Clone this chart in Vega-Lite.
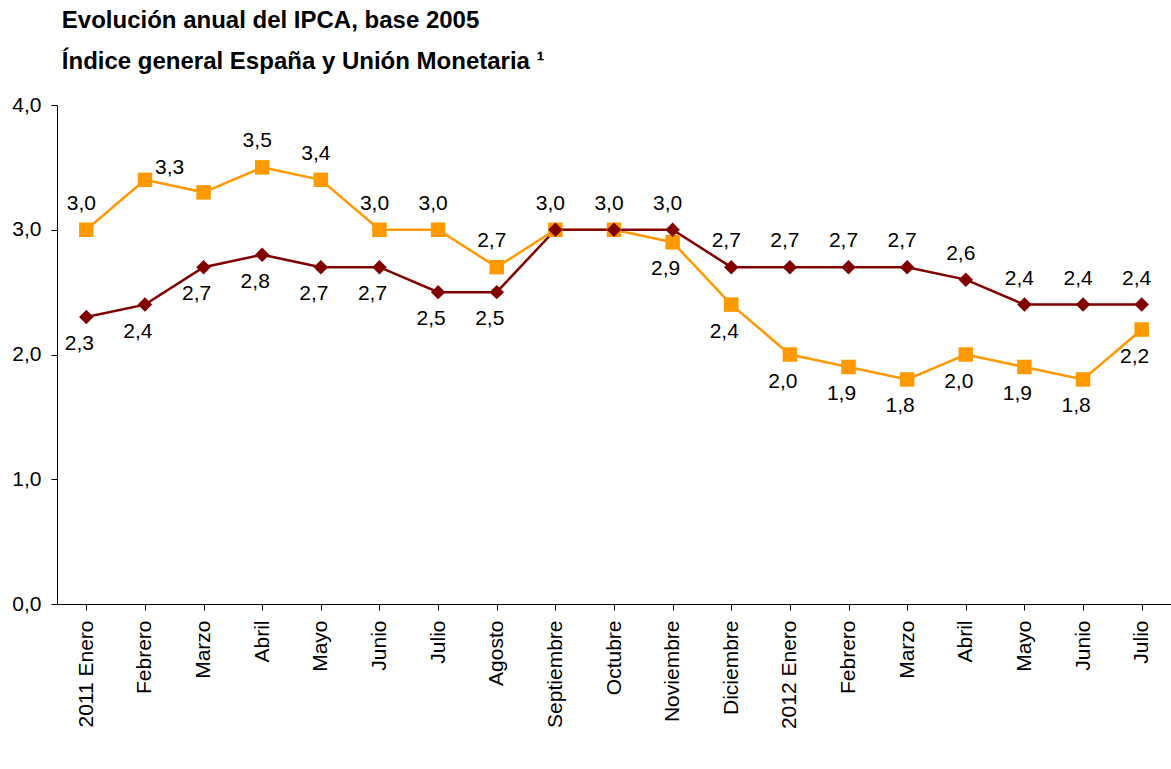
{
  "$schema": "https://vega.github.io/schema/vega-lite/v6.json",
  "autosize": {"type": "none"},
  "width": 1114,
  "height": 499,
  "padding": {"left": 57, "top": 105, "right": 0, "bottom": 165},
  "background": "white",
  "title": {
    "text": ["Evolución anual del IPCA, base 2005", "Índice general España y Unión Monetaria ¹"],
    "anchor": "start",
    "font": "Liberation Sans",
    "fontSize": 24,
    "fontWeight": "bold",
    "lineHeight": 41,
    "color": "black",
    "offset": 20,
    "dx": 50
  },
  "data": {
    "values": [
      {"fecha": "2011-01", "serie": "España", "valor": 3.0},
      {"fecha": "2011-02", "serie": "España", "valor": 3.4},
      {"fecha": "2011-03", "serie": "España", "valor": 3.3},
      {"fecha": "2011-04", "serie": "España", "valor": 3.5},
      {"fecha": "2011-05", "serie": "España", "valor": 3.4},
      {"fecha": "2011-06", "serie": "España", "valor": 3.0},
      {"fecha": "2011-07", "serie": "España", "valor": 3.0},
      {"fecha": "2011-08", "serie": "España", "valor": 2.7},
      {"fecha": "2011-09", "serie": "España", "valor": 3.0},
      {"fecha": "2011-10", "serie": "España", "valor": 3.0},
      {"fecha": "2011-11", "serie": "España", "valor": 2.9},
      {"fecha": "2011-12", "serie": "España", "valor": 2.4},
      {"fecha": "2012-01", "serie": "España", "valor": 2.0},
      {"fecha": "2012-02", "serie": "España", "valor": 1.9},
      {"fecha": "2012-03", "serie": "España", "valor": 1.8},
      {"fecha": "2012-04", "serie": "España", "valor": 2.0},
      {"fecha": "2012-05", "serie": "España", "valor": 1.9},
      {"fecha": "2012-06", "serie": "España", "valor": 1.8},
      {"fecha": "2012-07", "serie": "España", "valor": 2.2},
      {"fecha": "2011-01", "serie": "Unión Monetaria", "valor": 2.3},
      {"fecha": "2011-02", "serie": "Unión Monetaria", "valor": 2.4},
      {"fecha": "2011-03", "serie": "Unión Monetaria", "valor": 2.7},
      {"fecha": "2011-04", "serie": "Unión Monetaria", "valor": 2.8},
      {"fecha": "2011-05", "serie": "Unión Monetaria", "valor": 2.7},
      {"fecha": "2011-06", "serie": "Unión Monetaria", "valor": 2.7},
      {"fecha": "2011-07", "serie": "Unión Monetaria", "valor": 2.5},
      {"fecha": "2011-08", "serie": "Unión Monetaria", "valor": 2.5},
      {"fecha": "2011-09", "serie": "Unión Monetaria", "valor": 3.0},
      {"fecha": "2011-10", "serie": "Unión Monetaria", "valor": 3.0},
      {"fecha": "2011-11", "serie": "Unión Monetaria", "valor": 3.0},
      {"fecha": "2011-12", "serie": "Unión Monetaria", "valor": 2.7},
      {"fecha": "2012-01", "serie": "Unión Monetaria", "valor": 2.7},
      {"fecha": "2012-02", "serie": "Unión Monetaria", "valor": 2.7},
      {"fecha": "2012-03", "serie": "Unión Monetaria", "valor": 2.7},
      {"fecha": "2012-04", "serie": "Unión Monetaria", "valor": 2.6},
      {"fecha": "2012-05", "serie": "Unión Monetaria", "valor": 2.4},
      {"fecha": "2012-06", "serie": "Unión Monetaria", "valor": 2.4},
      {"fecha": "2012-07", "serie": "Unión Monetaria", "valor": 2.4}
    ]
  },
  "layer": [
    {
      "mark": {"type": "line", "strokeWidth": 2.5},
      "encoding": {
        "x": {
          "field": "fecha",
          "type": "ordinal",
          "axis": {
            "title": null,
            "labelAngle": -90,
            "labelAlign": "right",
            "labelBaseline": "middle",
            "labelFontSize": 21,
            "labelPadding": 10,
            "tickSize": 6,
            "labelExpr": "(datum.value == '2011-01' ? '2011 ' : datum.value == '2012-01' ? '2012 ' : '') + ['Enero','Febrero','Marzo','Abril','Mayo','Junio','Julio','Agosto','Septiembre','Octubre','Noviembre','Diciembre'][toNumber(slice(datum.value, 5)) - 1]"
          }
        },
        "y": {
          "field": "valor",
          "type": "quantitative",
          "scale": {"domain": [0, 4], "nice": false},
          "axis": {
            "title": null,
            "values": [0, 1, 2, 3, 4],
            "labelExpr": "replace(format(datum.value, '.1f'), '.', ',')",
            "grid": false,
            "labelFontSize": 21,
            "tickSize": 6,
            "labelPadding": 10
          }
        },
        "color": {
          "field": "serie",
          "type": "nominal",
          "scale": {"domain": ["España", "Unión Monetaria"], "range": ["#FF9900", "#800000"]},
          "legend": null
        }
      }
    },
    {
      "mark": {"type": "point", "filled": true, "opacity": 1, "size": 210},
      "encoding": {
        "x": {"field": "fecha", "type": "ordinal"},
        "y": {"field": "valor", "type": "quantitative"},
        "color": {"field": "serie", "type": "nominal", "legend": {"title": null, "orient": "none", "legendX": 356, "legendY": 640, "direction": "horizontal", "labelFontSize": 26, "labelColor": "black", "symbolSize": 220, "columnPadding": 60, "labelOffset": 8}},
        "shape": {
          "field": "serie",
          "type": "nominal",
          "scale": {"domain": ["España", "Unión Monetaria"], "range": ["square", "diamond"]},
          "legend": {"title": null, "orient": "none", "legendX": 356, "legendY": 640, "direction": "horizontal", "labelFontSize": 26, "labelColor": "black", "symbolSize": 220, "columnPadding": 60, "labelOffset": 8}
        }
      }
    },
    {
      "transform": [
        {"filter": {"or": [
          {"and": [{"field": "serie", "equal": "España"}, {"field": "fecha", "oneOf": ["2011-01", "2011-04", "2011-05", "2011-06", "2011-07", "2011-08"]}]},
          {"and": [{"field": "serie", "equal": "Unión Monetaria"}, {"field": "fecha", "oneOf": ["2011-09", "2011-10", "2011-11", "2011-12", "2012-01", "2012-02", "2012-03", "2012-04", "2012-05", "2012-06", "2012-07"]}]}
        ]}}
      ],
      "mark": {"type": "text", "fontSize": 21, "baseline": "middle", "dy": -26, "dx": -5, "color": "black"},
      "encoding": {
        "x": {"field": "fecha", "type": "ordinal"},
        "y": {"field": "valor", "type": "quantitative"},
        "text": {"field": "valor", "type": "quantitative", "format": ".1f"}
      }
    },
    {
      "transform": [
        {"filter": {"or": [
          {"and": [{"field": "serie", "equal": "España"}, {"field": "fecha", "oneOf": ["2011-11", "2011-12", "2012-01", "2012-02", "2012-03", "2012-04", "2012-05", "2012-06", "2012-07"]}]},
          {"and": [{"field": "serie", "equal": "Unión Monetaria"}, {"field": "fecha", "oneOf": ["2011-01", "2011-02", "2011-03", "2011-04", "2011-05", "2011-06", "2011-07", "2011-08"]}]}
        ]}}
      ],
      "mark": {"type": "text", "fontSize": 21, "baseline": "middle", "dy": 27, "dx": -7, "color": "black"},
      "encoding": {
        "x": {"field": "fecha", "type": "ordinal"},
        "y": {"field": "valor", "type": "quantitative"},
        "text": {"field": "valor", "type": "quantitative", "format": ".1f"}
      }
    },
    {
      "transform": [
        {"filter": {"and": [{"field": "serie", "equal": "España"}, {"field": "fecha", "equal": "2011-03"}]}}
      ],
      "mark": {"type": "text", "fontSize": 21, "baseline": "middle", "dy": -24, "dx": -34, "color": "black"},
      "encoding": {
        "x": {"field": "fecha", "type": "ordinal"},
        "y": {"field": "valor", "type": "quantitative"},
        "text": {"field": "valor", "type": "quantitative", "format": ".1f"}
      }
    }
  ],
  "config": {
    "locale": {"number": {"decimal": ",", "thousands": ".", "grouping": [3], "currency": ["", " €"]}},
    "view": {"stroke": null},
    "font": "Liberation Sans",
    "axis": {
      "labelColor": "black",
      "domainColor": "black",
      "tickColor": "black"
    }
  }
}
